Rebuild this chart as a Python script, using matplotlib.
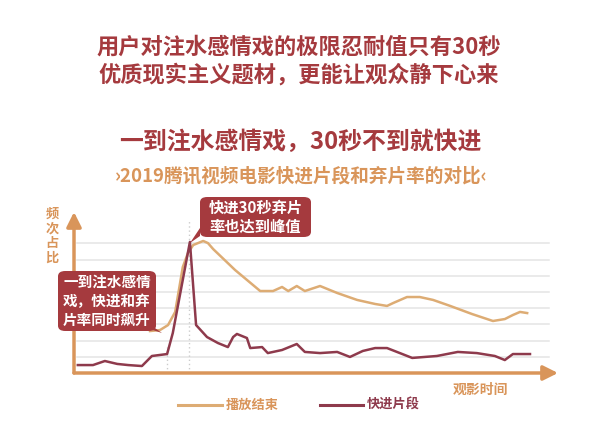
import matplotlib
matplotlib.use("Agg")
import matplotlib.pyplot as plt
from matplotlib.patches import FancyBboxPatch, Polygon
from matplotlib.lines import Line2D

plt.rcParams['font.family'] = ['Noto Sans CJK SC', 'DejaVu Sans']

# data (time index 0-100, frequency share in grid units)
end_t = [16.0, 18.1, 19.8, 21.3, 22.9, 24.0, 25.1, 27.2, 28.2, 29.3, 33.9, 39.2,
         41.9, 43.8, 45.1, 46.9, 48.6, 51.8, 55.4, 59.6, 63.4, 65.9, 67.2, 70.1,
         72.8, 75.6, 79.2, 83.8, 88.2, 90.7, 92.4, 93.9, 95.4]
end_v = [2.59, 2.65, 2.96, 3.77, 6.54, 7.41, 7.90, 8.15, 8.02, 7.65, 6.36, 5.06,
         5.06, 5.31, 5.06, 5.37, 5.06, 5.37, 4.94, 4.51, 4.26, 4.14, 4.32, 4.69,
         4.69, 4.51, 4.14, 3.64, 3.21, 3.33, 3.58, 3.77, 3.70]

ff_t = [0.8, 4.0, 6.5, 9.1, 11.4, 14.3, 16.4, 19.6, 20.8, 24.4, 25.7, 28.0, 30.3,
        32.4, 33.5, 34.3, 36.4, 37.1, 39.6, 40.8, 43.8, 46.9, 48.6, 51.8, 55.4,
        58.1, 60.8, 63.4, 65.9, 68.6, 71.2, 76.4, 80.8, 84.8, 88.6, 90.7, 92.4, 96.0]
ff_v = [0.49, 0.49, 0.74, 0.56, 0.49, 0.43, 1.05, 1.17, 2.47, 8.09, 2.96, 2.22, 1.85,
        1.60, 2.22, 2.41, 2.16, 1.54, 1.60, 1.23, 1.42, 1.79, 1.30, 1.23, 1.30,
        0.99, 1.36, 1.54, 1.54, 1.23, 0.93, 1.05, 1.30, 1.23, 1.05, 0.80, 1.17, 1.17]

red = '#a53a3e'
tan = '#d9955a'
end_color = '#ddac74'
ff_color = '#8e3a4c'

W, H = 606, 440
fig = plt.figure(figsize=(W / 100, H / 100), dpi=100)
fig.patch.set_facecolor('white')


def fx(px):
    return px / W


def fy(py):
    return 1 - py / H


# titles
fig.text(fx(299), fy(47), '用户对注水感情戏的极限忍耐值只有30秒', ha='center', va='center',
         fontsize=16, fontweight='bold', color=red)
fig.text(fx(299), fy(75), '优质现实主义题材，更能让观众静下心来', ha='center', va='center',
         fontsize=16, fontweight='bold', color=red)
fig.text(fx(300), fy(142), '一到注水感情戏，30秒不到就快进', ha='center', va='center',
         fontsize=17.2, fontweight='bold', color=red)
fig.text(fx(301), fy(176), '›2019腾讯视频电影快进片段和弃片率的对比‹', ha='center', va='center',
         fontsize=13.4, fontweight='bold', color=tan)

# chart area
x0, x1 = 74, 558
y0, y1 = 373, 212
ax = fig.add_axes([fx(x0), fy(y0), (x1 - x0) / W, (y0 - y1) / H])
px_per_t = 4.75
px_per_v = 16.2
ax.set_xlim(0, (x1 - x0) / px_per_t)
ax.set_ylim(0, (y0 - y1) / px_per_v)
ax.axis('off')

for g in range(1, 9):
    ax.plot([0.6, 100], [g, g], color='#e4e4e4', lw=1.1, zorder=1)

ax.plot([19.6, 19.6], [0, 1.6], color='#cccccc', lw=1, ls=(0, (1, 2)), zorder=1)
ax.plot([24.2, 24.2], [0, 9.4], color='#cccccc', lw=1, ls=(0, (1, 2)), zorder=1)

ax.plot(end_t, end_v, color=end_color, lw=1.8, zorder=3)
ax.plot(ff_t, ff_v, color=ff_color, lw=1.8, zorder=4)

xmax = (x1 - x0) / px_per_t
ymax = (y0 - y1) / px_per_v
ax.annotate('', xy=(xmax, 0), xytext=(0, 0), annotation_clip=False,
            arrowprops=dict(arrowstyle='-|>', color=tan, lw=2.5, mutation_scale=22,
                            shrinkA=0, shrinkB=0))
ax.annotate('', xy=(0, ymax), xytext=(0, 0), annotation_clip=False,
            arrowprops=dict(arrowstyle='-|>', color=tan, lw=2.5, mutation_scale=22,
                            shrinkA=0, shrinkB=0))

# axis labels
fig.text(fx(52), fy(236), '频\n次\n占\n比', ha='center', va='center', fontsize=9.5,
         fontweight='bold', color=tan, linespacing=1.05)
fig.text(fx(481), fy(390), '观影时间', ha='center', va='center', fontsize=10,
         fontweight='bold', color=tan)


# callout bubbles
def bubble(left, top, right, bottom, tail, lines, size):
    box = FancyBboxPatch((fx(left), fy(bottom)), fx(right - left), (bottom - top) / H,
                         boxstyle='round,pad=0,rounding_size=0.012',
                         transform=fig.transFigure, fc=red, ec='none', zorder=10)
    fig.add_artist(box)
    tri = Polygon([(fx(p[0]), fy(p[1])) for p in tail], closed=True,
                  transform=fig.transFigure, fc=red, ec='none', zorder=10)
    fig.add_artist(tri)
    fig.text(fx((left + right) / 2), fy((top + bottom) / 2), lines, ha='center',
             va='center', fontsize=size, fontweight='bold', color='white',
             linespacing=1.25, zorder=11)


bubble(58, 271, 156, 331, [(140, 326), (152, 326), (162, 333)],
       '一到注水感情\n戏，快进和弃\n片率同时飙升', 10.5)
bubble(200, 197, 311, 237, [(200, 228), (200, 236), (190, 243)],
       '快进30秒弃片\n率也达到峰值', 11)

# legend
fig.add_artist(Line2D([fx(178), fx(222)], [fy(405), fy(405)], color=end_color, lw=2.2,
                      transform=fig.transFigure))
fig.text(fx(226), fy(405), '播放结束', ha='left', va='center', fontsize=9.5,
         fontweight='bold', color=tan)
fig.add_artist(Line2D([fx(320), fx(363)], [fy(405), fy(405)], color=ff_color, lw=2.2,
                      transform=fig.transFigure))
fig.text(fx(367), fy(405), '快进片段', ha='left', va='center', fontsize=9.5,
         fontweight='bold', color=ff_color)

fig.savefig('out.png', dpi=100, facecolor='white')
